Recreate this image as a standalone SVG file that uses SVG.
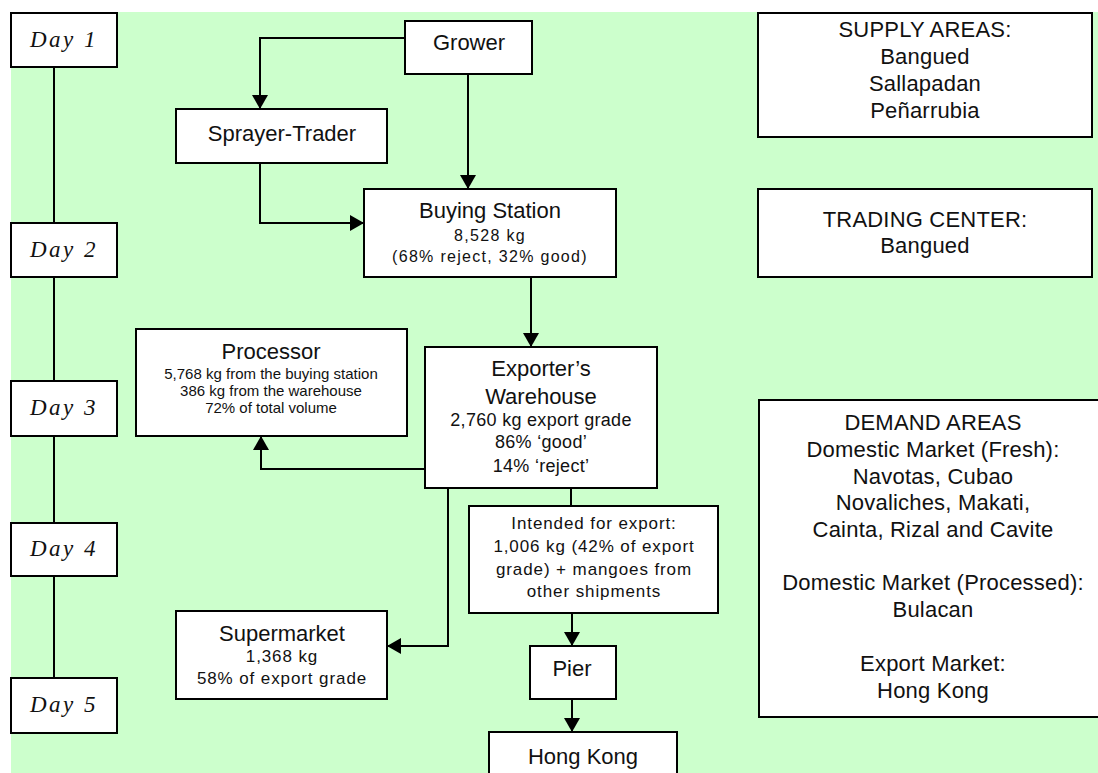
<svg xmlns="http://www.w3.org/2000/svg" width="1098" height="773" viewBox="0 0 1098 773">
<style>
.box{fill:#fff;stroke:#000;stroke-width:2}
.t{font-family:"Liberation Sans",Arial,sans-serif;fill:#111;text-anchor:middle}
.ti{font-size:22px}
.sb{font-size:16px;letter-spacing:1.3px}
.s15{font-size:15px}
.s17{font-size:17px;letter-spacing:0.9px}
.s18{font-size:18px;letter-spacing:0.3px}
.r{font-size:22px;letter-spacing:0.2px}
.day{font-family:"Liberation Serif","Times New Roman",serif;font-style:italic;font-size:23px;letter-spacing:2.5px;fill:#111;text-anchor:middle}
.conn{stroke:#000;stroke-width:2;fill:none}
</style>
<defs>
<marker id="ah" viewBox="0 0 14 16" refX="14" refY="8" markerWidth="14" markerHeight="16" markerUnits="userSpaceOnUse" orient="auto">
<path d="M0,0 L14,8 L0,16 z" fill="#000"/>
</marker>
</defs>
<rect x="0" y="0" width="1098" height="773" fill="#fff"/>
<rect x="11" y="12" width="1087" height="761" fill="#ccffcc"/>

<g id="timeline">
<path class="conn" d="M54,67 V678"/>
</g>

<g id="connectors">
<path class="conn" d="M405,38 H260 V109" marker-end="url(#ah)"/>
<path class="conn" d="M468,74 V189" marker-end="url(#ah)"/>
<path class="conn" d="M260,163 V223 H364" marker-end="url(#ah)"/>
<path class="conn" d="M531,277 V347" marker-end="url(#ah)"/>
<path class="conn" d="M425,469 H261 V436" marker-end="url(#ah)"/>
<path class="conn" d="M448,488 V646 H387" marker-end="url(#ah)"/>
<path class="conn" d="M571,488 V506"/>
<path class="conn" d="M572,613 V646" marker-end="url(#ah)"/>
<path class="conn" d="M572,699 V732" marker-end="url(#ah)"/>
</g>

<g id="day1"><rect class="box" x="11" y="13" width="106" height="54"/><text class="day" x="64" y="47">Day 1</text></g>
<g id="day2"><rect class="box" x="11" y="223" width="106" height="54"/><text class="day" x="64" y="257">Day 2</text></g>
<g id="day3"><rect class="box" x="11" y="381" width="106" height="55"/><text class="day" x="64" y="415">Day 3</text></g>
<g id="day4"><rect class="box" x="11" y="523" width="106" height="53"/><text class="day" x="64" y="556">Day 4</text></g>
<g id="day5"><rect class="box" x="11" y="678" width="106" height="55"/><text class="day" x="64" y="712">Day 5</text></g>

<g id="grower"><rect class="box" x="405" y="21" width="127" height="53"/><text class="t ti" x="469" y="50">Grower</text></g>

<g id="sprayer"><rect class="box" x="176" y="109" width="211" height="54"/><text class="t ti" x="282" y="141">Sprayer-Trader</text></g>

<g id="buying"><rect class="box" x="364" y="189" width="252" height="88"/>
<text class="t ti" x="490" y="218">Buying Station</text>
<text class="t sb" x="490" y="241">8,528 kg</text>
<text class="t sb" x="490" y="262">(68% reject, 32% good)</text>
</g>

<g id="processor"><rect class="box" x="136" y="329" width="271" height="107"/>
<text class="t ti" x="271" y="359">Processor</text>
<text class="t s15" x="271" y="379">5,768 kg from the buying station</text>
<text class="t s15" x="271" y="396">386 kg from the warehouse</text>
<text class="t s15" x="271" y="413">72% of total volume</text>
</g>

<g id="exporter"><rect class="box" x="425" y="347" width="232" height="141"/>
<text class="t ti" x="541" y="376">Exporter’s</text>
<text class="t ti" x="541" y="404">Warehouse</text>
<text class="t s18" x="541" y="426">2,760 kg export grade</text>
<text class="t s18" x="541" y="448">86% ‘good’</text>
<text class="t s18" x="541" y="472">14% ‘reject’</text>
</g>

<g id="intended"><rect class="box" x="469" y="506" width="249" height="107"/>
<text class="t s17" x="594" y="529">Intended for export:</text>
<text class="t s17" x="594" y="552">1,006 kg (42% of export</text>
<text class="t s17" x="594" y="575">grade) + mangoes from</text>
<text class="t s17" x="594" y="597">other shipments</text>
</g>

<g id="supermarket"><rect class="box" x="176" y="611" width="211" height="88"/>
<text class="t ti" x="282" y="641">Supermarket</text>
<text class="t s17" x="282" y="662">1,368 kg</text>
<text class="t s17" x="282" y="684">58% of export grade</text>
</g>

<g id="pier"><rect class="box" x="530" y="646" width="86" height="53"/><text class="t ti" x="572" y="676">Pier</text></g>

<g id="hongkong"><rect class="box" x="489" y="732" width="188" height="60"/><text class="t ti" x="583" y="764">Hong Kong</text></g>

<g id="supply"><rect class="box" x="758" y="13" width="334" height="124"/>
<text class="t r" x="925" y="37">SUPPLY AREAS:</text>
<text class="t r" x="925" y="64">Bangued</text>
<text class="t r" x="925" y="91">Sallapadan</text>
<text class="t r" x="925" y="118">Peñarrubia</text>
</g>

<g id="trading"><rect class="box" x="758" y="189" width="334" height="88"/>
<text class="t r" x="925" y="227">TRADING CENTER:</text>
<text class="t r" x="925" y="253">Bangued</text>
</g>

<g id="demand"><rect class="box" x="759" y="400" width="345" height="317"/>
<text class="t r" x="933" y="430">DEMAND AREAS</text>
<text class="t r" x="933" y="457">Domestic Market (Fresh):</text>
<text class="t r" x="933" y="484">Navotas, Cubao</text>
<text class="t r" x="933" y="510">Novaliches, Makati,</text>
<text class="t r" x="933" y="537">Cainta, Rizal and Cavite</text>
<text class="t r" x="933" y="590">Domestic Market (Processed):</text>
<text class="t r" x="933" y="617">Bulacan</text>
<text class="t r" x="933" y="671">Export Market:</text>
<text class="t r" x="933" y="698">Hong Kong</text>
</g>
</svg>
